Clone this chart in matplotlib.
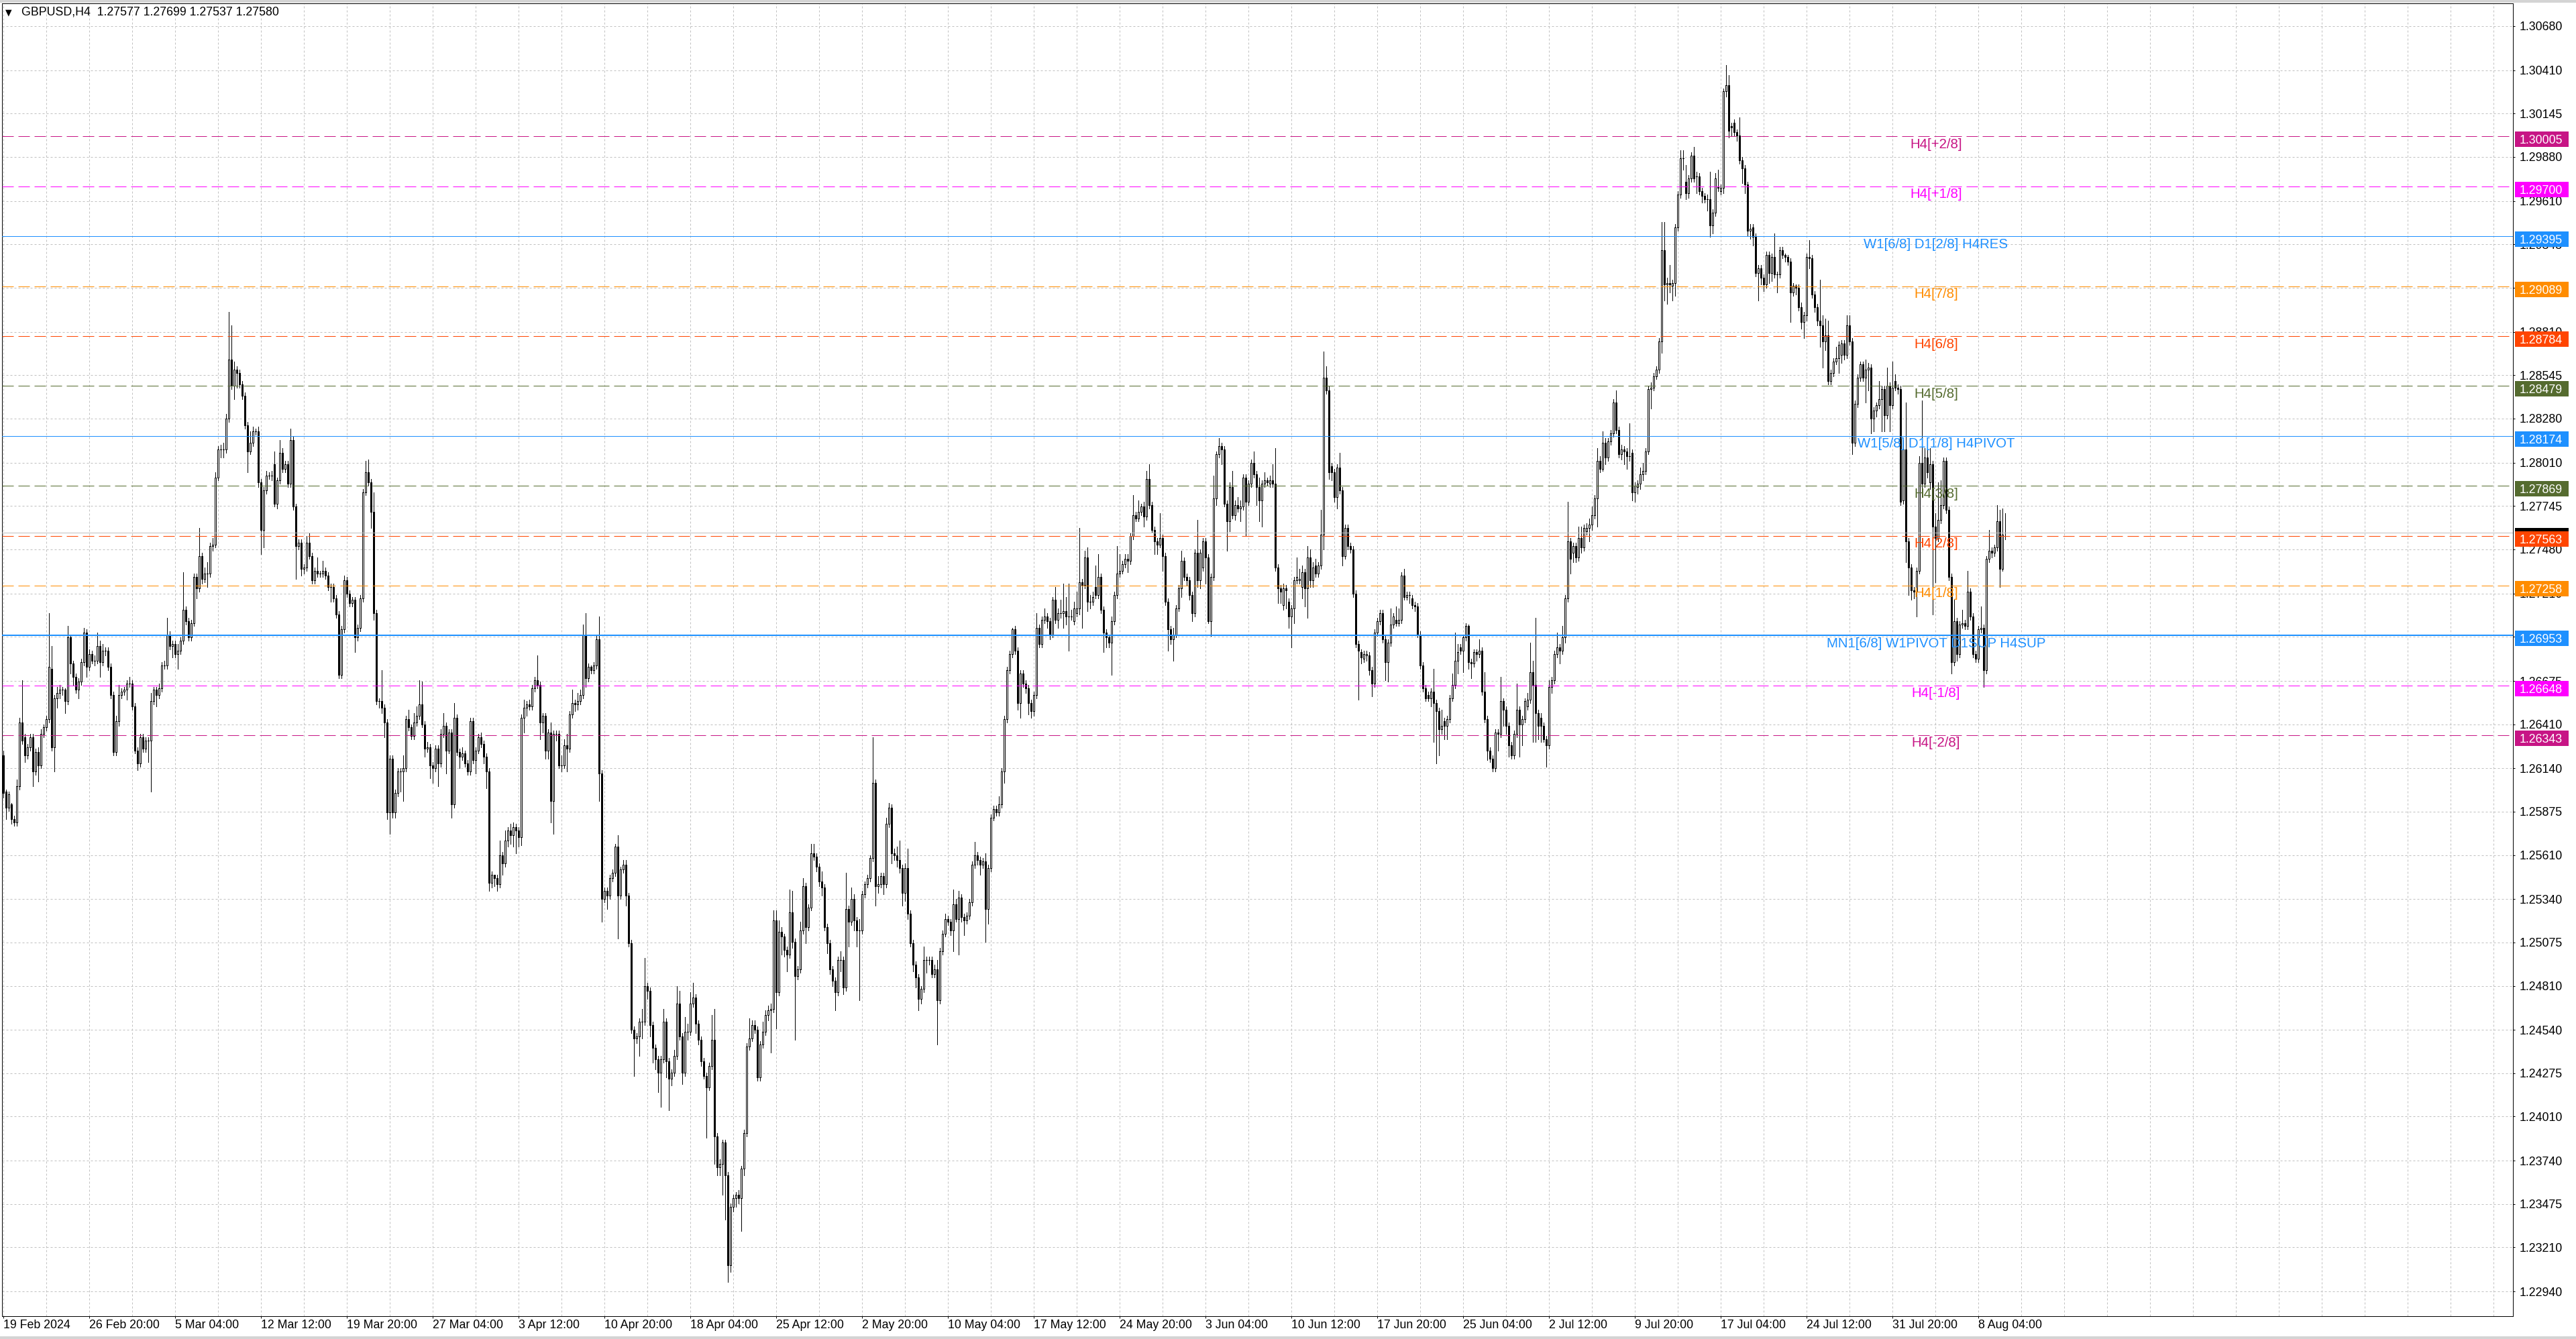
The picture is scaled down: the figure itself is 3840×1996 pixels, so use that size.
import matplotlib
matplotlib.use("Agg")
import matplotlib.pyplot as plt
import numpy as np
from matplotlib.patches import Rectangle
from matplotlib.ticker import FixedLocator

plt.rcParams['font.family'] = ['Liberation Sans', 'DejaVu Sans']

TITLE = "GBPUSD,H4  1.27577 1.27699 1.27537 1.27580"
BID = 1.27580

# H4 candles, prices in units of 0.0001
opens = [
12622,12600,12590,12592,12583,12581,12603,12642,12633,12622,
12627,12633,12612,12624,12616,12635,12639,12644,12675,12627,
12657,12660,12662,12662,12655,12694,12678,12670,12662,12667,
12679,12697,12676,12684,12680,12680,12689,12679,12686,12686,
12676,12659,12624,12643,12659,12661,12662,12666,12666,12652,
12625,12617,12633,12626,12631,12631,12655,12662,12659,12663,
12677,12677,12696,12689,12690,12684,12686,12692,12711,12704,
12694,12703,12731,12724,12744,12730,12733,12733,12750,12751,
12792,12809,12809,12809,12828,12864,12848,12858,12856,12849,
12842,12824,12808,12813,12820,12820,12789,12760,12784,12793,
12793,12800,12776,12790,12807,12797,12800,12788,12815,12774,
12750,12752,12736,12737,12752,12744,12729,12735,12733,12733,
12735,12732,12725,12725,12718,12708,12671,12699,12729,
12721,12715,12717,12694,12700,12718,12783,12795,12789,12771,
12709,12655,12655,12651,12642,12587,12620,12587,12599,12612,
12612,12614,12644,12639,12634,12642,12646,12653,12641,12626,
12627,12616,12614,12626,12617,12635,12640,12625,12636,12592,
12645,12624,12621,12623,12617,12612,12643,12619,12625,12633,
12629,12621,12612,12544,12549,12547,12543,12561,12556,12570,
12576,12573,12578,12576,12572,12645,12651,12653,12652,12663,
12668,12665,12642,12646,12625,12636,12594,12635,12635,12616,
12616,12628,12626,12647,12654,12653,12655,12659,12696,12669,
12676,12674,12677,12693,12611,12534,12539,12536,12547,12550,
12566,12536,12552,12555,12536,12507,12454,12449,12450,12459,
12459,12481,12478,12457,12443,12436,12428,12436,12459,12435,
12424,12428,12438,12470,12450,12428,12453,12453,12470,12474,
12458,12448,12435,12426,12419,12432,12448,12389,12370,12372,
12385,12365,12310,12346,12351,12353,12351,12369,12391,12444,
12449,12457,12454,12425,12445,12453,12463,12466,12467,12521,
12477,12514,12511,12503,12500,12526,12508,12487,12491,12515,
12542,12517,12529,12562,12560,12554,12545,12541,12517,12507,
12491,12484,12477,12497,12497,12480,12528,12520,12534,12521,
12515,12515,12537,12543,12547,12559,12605,12542,12543,12548,
12543,12580,12590,12562,12561,12558,12553,12538,12553,12525,
12507,12494,12486,12473,12479,12497,
12497,
12497,12488,12491,12472,12502,12513,12522,12520,12515,12531,
12522,12535,12523,12521,12524,12532,12555,12561,12558,12555,
12557,12528,12553,12584,12589,12587,12592,12612,12644,12674,
12684,12699,12686,12654,12672,12666,12663,12654,12649,12659,
12700,12690,12705,12707,12704,12696,12717,12705,12709,12709,
12710,12707,12707,12704,12709,12712,12728,12726,12743,12716,
12716,12725,12720,12731,12711,12697,12694,12691,12704,12720,
12733,12735,12739,12742,12741,12756,12769,12767,12771,12774,
12768,12791,12775,12760,12753,12751,12755,12744,12716,12699,
12693,12696,12712,12724,12741,12731,12729,12720,12709,12746,
12729,12737,12753,12743,12704,12731,12779,12806,12811,12809,
12776,12765,12786,12769,12775,12773,12774,12792,12777,12788,
12801,12794,12786,12778,12788,12790,12788,12790,12788,12737,
12724,12714,12724,12716,12707,12712,12729,12729,12725,12734,
12724,12743,12729,12738,12733,12738,12757,12853,12845,12799,
12795,12780,12798,12784,12744,12761,12750,12748,12721,12690,
12685,12681,12683,12683,12674,12666,12697,12704,12709,12693,
12679,12691,12702,12705,12703,12705,12732,12719,12720,12718,
12714,12713,12696,12677,12663,12659,12657,12661,12654,12649,
12638,12643,12640,12644,12657,12665,12680,12688,12686,12694,
12701,12679,12678,12685,12684,12686,12661,12644,12625,12620,
12614,12636,12635,12655,12650,12640,12628,12622,12635,12650,
12641,12644,12652,12656,12673,12665,12648,12645,12640,12632,
12628,12664,12668,12684,12688,12686,12694,12718,12753,12746,
12750,12743,12755,12749,12759,12761,12763,12769,12779,12802,
12797,12813,12804,12814,12819,12838,12821,12806,12809,12808,
12805,12807,12783,12786,12788,12794,12796,12808,12846,12847,
12854,12858,12875,12931,12910,12911,12909,12911,12945,12965,
12987,12973,12966,12975,12989,12976,12976,12967,12964,12962,
12962,12946,12954,12970,
12967,
12969,13028,13032,13007,13009,13003,13001,12986,12981,12971,
12943,12945,12939,12917,12920,12914,12910,12928,12917,12927,
12916,12916,12931,12928,12927,12924,12905,12909,12908,12896,
12887,12891,12927,12926,12904,12896,12888,12885,12875,12879,
12851,12856,12863,12865,12867,12874,12867,12885,12875,12813,
12837,12853,12861,12853,12858,12859,12828,12833,12836,12840,
12846,12830,12848,12836,12851,12847,12846,12778,12809,12753,
12737,12723,12722,12735,12801,12788,12804,12789,12800,12762,
12755,12766,12775,12802,12772,12731,12679,12704,12684,12702,
12703,12701,12722,12707,12684,12681,12699,12700,12674,12742,
12747,12746,12749,12765,12736,12758,
]

highs = [
12625,12601,12600,12593,12585,12607,12645,12668,12635,12629,
12635,12635,12626,12627,12638,12641,12646,12709,12689,12659,
12664,12665,12664,12663,12701,12696,12680,12672,12669,12681,
12700,12699,12687,12686,12683,12697,12692,12690,12688,12688,
12678,12661,12646,12665,12663,12664,12668,12670,12668,12654,
12627,12635,12635,12633,12633,12660,12664,12664,12666,12679,
12680,12706,12698,12692,12692,12690,12694,12734,12713,12706,
12705,12733,12733,12761,12746,12737,12740,12752,12755,12795,
12811,12812,12813,12831,12893,12885,12863,12860,12858,12851,
12844,12826,12820,12823,12822,12823,12791,12786,12796,12795,
12796,12808,12792,12815,12810,12802,12802,12822,12817,12776,
12754,12754,12739,12756,12758,12746,12737,12743,12735,12741,
12737,12734,12727,12727,12720,12710,12701,12732,12731,
12723,12719,12719,12702,12720,12785,12802,12803,12791,12783,
12711,12657,12674,12653,12644,12622,12622,12601,12614,12614,
12622,12646,12650,12641,12648,12652,12668,12667,12643,12630,
12629,12618,12628,12628,12638,12648,12642,12638,12638,12654,
12647,12626,12627,12625,12619,12645,12645,12627,12635,12636,
12631,12623,12614,12551,12549,12549,12570,12563,12576,12578,
12580,12581,12580,12578,12647,12656,12655,12656,12665,12670,
12683,12667,12648,12648,12638,12642,12637,12637,12637,12622,
12632,12635,12649,12662,12656,12660,12662,12702,12709,12678,
12677,12679,12696,12707,12613,12541,12541,12549,12552,12568,
12573,12554,12558,12558,12538,12509,12456,12452,12461,12467,
12498,12483,12480,12459,12445,12438,12438,12467,12461,12437,
12430,12442,12481,12478,12452,12462,12458,12477,12483,12476,
12460,12450,12437,12428,12434,12463,12467,12391,12375,12387,
12387,12367,12348,12353,12355,12356,12371,12393,12446,12461,
12460,12460,12456,12447,12459,12466,12469,12470,12527,12527,
12521,12517,12513,12505,12540,12539,12510,12493,12520,12547,
12544,12531,12568,12568,12562,12556,12551,12543,12519,12509,
12493,12486,12499,12502,12499,12550,12530,12541,12537,12523,
12522,12539,12545,12549,12561,12633,12607,12548,12550,12550,
12584,12593,12592,12565,12566,12570,12555,12556,12565,12527,
12509,12496,12488,12481,12505,12499,
12499,
12499,12494,12497,12504,12515,12525,12524,12522,12540,12534,
12539,12537,12525,12526,12534,12557,12569,12563,12560,12559,
12562,12555,12586,12591,12591,12597,12614,12646,12676,12686,
12700,12701,12688,12674,12674,12668,12665,12656,12661,12709,
12702,12707,12712,12709,12706,12719,12725,12712,12717,12727,
12719,12727,12711,12716,12722,12761,12730,12747,12749,12720,
12722,12738,12745,12733,12713,12699,12696,12707,12722,12750,
12745,12741,12745,12745,12758,12781,12771,12778,12776,12777,
12796,12800,12777,12762,12755,12770,12757,12746,12718,12701,
12700,12714,12726,12747,12743,12733,12731,12722,12748,12766,
12748,12755,12755,12745,12733,12793,12808,12816,12813,12811,
12778,12789,12796,12778,12780,12778,12794,12794,12790,12803,
12808,12796,12792,12790,12795,12792,12793,12800,12810,12739,
12726,12727,12726,12718,12714,12731,12743,12736,12738,12736,
12750,12748,12740,12742,12740,12772,12869,12860,12848,12801,
12797,12800,12807,12786,12763,12763,12752,12750,12723,12692,
12687,12686,12686,12685,12676,12699,12706,12711,12711,12695,
12693,12712,12709,12713,12712,12734,12736,12722,12722,12720,
12716,12715,12698,12679,12665,12661,12663,12675,12656,12651,
12650,12645,12646,12659,12672,12697,12690,12690,12696,12703,
12702,12681,12687,12687,12693,12688,12673,12646,12627,12622,
12638,12638,12670,12657,12652,12642,12630,12637,12666,12652,
12646,12657,12660,12691,12680,12706,12650,12648,12642,12634,
12668,12670,12686,12697,12690,12701,12720,12777,12755,12752,
12752,12762,12762,12763,12764,12767,12774,12781,12810,12805,
12820,12816,12816,12821,12840,12845,12823,12812,12811,12810,
12825,12809,12789,12790,12798,12801,12810,12848,12850,12856,
12860,12877,12948,12948,12914,12922,12913,12947,12967,12992,
12992,12983,12977,12991,12994,12979,12978,12969,12966,12965,
12979,12956,12978,12980,
12971,
13030,13044,13038,13009,13011,13005,13012,12988,12983,12973,
12947,12947,12941,12922,12922,12916,12930,12930,12929,12941,
12918,12933,12933,12929,12928,12926,12911,12910,12910,12899,
12893,12929,12937,12928,12906,12898,12913,12891,12889,12888,
12858,12865,12872,12875,12876,12876,12891,12891,12877,12839,
12855,12863,12863,12864,12862,12861,12835,12838,12851,12848,
12848,12859,12850,12863,12855,12849,12848,12815,12838,12755,
12739,12725,12737,12805,12839,12810,12813,12810,12802,12770,
12789,12790,12804,12804,12774,12733,12717,12706,12704,12711,
12705,12735,12724,12709,12686,12701,12713,12702,12744,12760,
12749,12751,12775,12772,12773,12770,
]

lows = [
12596,12583,12588,12580,12579,12579,12601,12629,12618,12620,
12625,12603,12610,12606,12614,12633,12637,12642,12625,12612,
12651,12657,12659,12648,12653,12672,12665,12660,12657,12665,
12677,12670,12674,12678,12677,12678,12670,12677,12683,12674,
12657,12622,12622,12640,12657,12659,12656,12664,12650,12623,
12613,12615,12624,12624,12618,12600,12653,12652,12657,12661,
12675,12675,12687,12682,12682,12675,12684,12690,12702,12692,
12692,12701,12718,12722,12727,12728,12725,12731,12747,12749,
12790,12804,12804,12807,12826,12846,12840,12847,12847,12840,
12822,12795,12806,12811,12818,12786,12745,12749,12782,12791,
12790,12774,12773,12788,12795,12795,12786,12786,12772,12730,
12748,12732,12733,12735,12742,12727,12727,12731,12731,12731,
12730,12723,12716,12716,12706,12669,12669,12697,12719,
12713,12713,12685,12692,12698,12716,12781,12787,12761,12705,
12653,12651,12648,12633,12583,12574,12584,12584,12597,12600,
12594,12612,12637,12632,12632,12640,12644,12639,12621,12624,
12608,12605,12612,12603,12615,12633,12611,12623,12584,12590,
12622,12614,12619,12615,12610,12610,12617,12611,12623,12627,
12617,12602,12539,12541,12542,12539,12541,12549,12554,12566,
12568,12566,12562,12566,12567,12636,12646,12650,12650,12661,
12663,12632,12636,12620,12620,12581,12574,12631,12614,12612,
12614,12612,12624,12645,12649,12650,12653,12657,12664,12667,
12672,12672,12675,12594,12520,12532,12528,12534,12545,12548,
12510,12534,12550,12530,12505,12452,12426,12446,12438,12449,
12457,12473,12450,12434,12430,12416,12407,12434,12425,12405,
12420,12426,12436,12448,12421,12426,12448,12451,12468,12452,
12445,12432,12424,12388,12417,12430,12372,12365,12365,12353,
12338,12300,12306,12343,12346,12348,12331,12365,12389,12442,
12447,12452,12423,12423,12443,12451,12460,12440,12465,12455,
12475,12500,12499,12490,12498,12504,12448,12485,12489,12513,
12507,12515,12527,12558,12551,12542,12536,12515,12501,12488,
12481,12466,12475,12490,12476,12478,12505,12518,12515,12505,
12472,12513,12535,12541,12545,12557,12530,12538,12541,12537,
12541,12578,12556,12558,12554,12550,12530,12533,12522,12505,
12490,12480,12466,12470,12477,12489,
12494,
12486,12486,12445,12470,12500,12511,12518,12512,12502,12520,
12500,12520,12512,12519,12522,12530,12553,12555,12549,12553,
12508,12519,12551,12582,12585,12585,12590,12605,12642,12672,
12682,12684,12650,12645,12664,12660,12647,12645,12646,12657,
12688,12688,12703,12700,12693,12694,12703,12700,12706,12700,
12702,12686,12705,12702,12707,12708,12700,12724,12710,12712,
12714,12718,12718,12709,12685,12688,12688,12671,12702,12718,
12731,12733,12737,12734,12739,12754,12765,12765,12769,12762,
12766,12773,12758,12745,12745,12749,12735,12714,12686,12690,
12680,12694,12710,12719,12729,12726,12717,12704,12707,12725,
12724,12735,12727,12703,12695,12729,12775,12804,12800,12774,
12747,12759,12767,12766,12771,12765,12772,12756,12775,12786,
12792,12775,12765,12762,12786,12787,12786,12786,12735,12715,
12715,12711,12712,12700,12688,12703,12727,12727,12718,12713,
12706,12725,12725,12731,12731,12736,12748,12843,12791,12790,
12777,12773,12782,12738,12742,12748,12746,12719,12688,12656,
12678,12679,12680,12671,12658,12664,12695,12702,12691,12668,
12667,12689,12700,12701,12701,12703,12717,12717,12715,12712,
12710,12694,12675,12661,12655,12655,12652,12630,12617,12622,
12635,12632,12632,12642,12655,12663,12672,12684,12673,12692,
12675,12669,12676,12680,12682,12659,12642,12619,12618,12612,
12612,12625,12633,12640,12635,12621,12620,12620,12633,12621,
12628,12642,12650,12654,12630,12630,12632,12630,12630,12615,
12626,12660,12666,12682,12678,12684,12691,12716,12733,12740,
12740,12741,12746,12747,12757,12753,12760,12767,12762,12795,
12796,12800,12802,12812,12817,12819,12804,12803,12800,12797,
12802,12778,12777,12782,12785,12790,12794,12806,12834,12845,
12852,12856,12868,12900,12898,12905,12900,12903,12943,12963,
12980,12962,12963,12973,12973,12966,12965,12960,12960,12955,
12939,12941,12952,12967,
12965,
12966,13025,13000,13001,13001,12998,12984,12972,12966,12940,
12938,12934,12915,12900,12910,12906,12908,12911,12912,12914,
12905,12914,12926,12924,12922,12887,12903,12904,12894,12883,
12877,12888,12920,12902,12893,12885,12872,12859,12870,12849,
12849,12854,12861,12856,12862,12864,12865,12873,12806,12811,
12835,12851,12851,12838,12845,12819,12820,12829,12834,12820,
12820,12828,12820,12834,12845,12843,12775,12776,12740,12720,
12717,12718,12707,12733,12780,12786,12792,12785,12708,12728,
12753,12764,12773,12770,12729,12672,12677,12680,12682,12700,
12699,12699,12705,12682,12679,12679,12697,12664,12672,12740,
12743,12744,12747,12725,12735,12754,
]

closes = [
12599,12590,12598,12583,12581,12603,12642,12631,12622,12627,
12633,12612,12624,12616,12635,12639,12644,12676,12627,12657,
12660,12662,12662,12655,12694,12678,12670,12662,12667,12679,
12697,12676,12684,12680,12680,12689,12679,12686,12686,12676,
12659,12624,12643,12659,12661,12662,12666,12666,12652,12625,
12617,12633,12626,12631,12631,12655,12662,12659,12663,12677,
12677,12696,12689,12690,12684,12686,12692,12711,12704,12694,
12703,12731,12724,12744,12730,12733,12733,12750,12751,12792,
12809,12809,12809,12828,12864,12848,12858,12856,12849,12842,
12824,12808,12813,12820,12820,12789,12760,12784,12793,12793,
12793,12776,12790,12807,12797,12800,12788,12815,12774,12750,
12752,12736,12737,12752,12744,12729,12735,12733,12733,12735,
12732,12725,12725,12718,12708,12671,12699,12729,12721,
12715,12717,12694,12700,12718,12783,12795,12789,12771,12709,
12655,12655,12651,12642,12587,12620,12587,12599,12612,12612,
12614,12644,12639,12634,12642,12646,12653,12641,12626,12627,
12616,12614,12626,12617,12635,12640,12625,12636,12592,12645,
12624,12621,12623,12617,12612,12643,12619,12625,12633,12629,
12621,12612,12544,12549,12547,12543,12561,12556,12570,12576,
12573,12578,12576,12572,12645,12651,12653,12652,12663,12668,
12665,12642,12646,12625,12636,12594,12635,12635,12616,12616,
12628,12626,12647,12654,12653,12655,12659,12696,12669,12676,
12674,12677,12693,12611,12534,12539,12536,12547,12550,12566,
12536,12552,12555,12536,12507,12454,12449,12450,12459,12459,
12481,12478,12457,12443,12436,12428,12436,12459,12435,12424,
12428,12438,12470,12450,12428,12453,12453,12470,12474,12458,
12448,12435,12426,12419,12432,12448,12389,12370,12372,12385,
12365,12310,12346,12351,12353,12351,12369,12391,12444,12449,
12457,12454,12425,12445,12453,12463,12466,12467,12521,12477,
12514,12511,12503,12500,12526,12508,12487,12491,12515,12542,
12517,12529,12562,12560,12554,12545,12541,12517,12507,12491,
12484,12477,12497,12497,12480,12528,12520,12534,12521,12515,
12515,12537,12543,12547,12559,12605,12542,12543,12548,12543,
12580,12590,12562,12561,12558,12553,12538,12553,12525,12507,
12494,12486,12473,12479,12497,12497,
12497,
12488,12491,12472,12502,12513,12522,12520,12515,12531,12522,
12535,12523,12521,12524,12532,12555,12561,12558,12555,12557,
12528,12553,12584,12589,12587,12592,12612,12644,12674,12684,
12699,12686,12654,12672,12666,12663,12654,12649,12659,12700,
12690,12705,12707,12704,12696,12717,12705,12709,12709,12710,
12707,12707,12707,12712,12712,12728,12726,12743,12716,12716,
12719,12720,12731,12711,12697,12694,12691,12704,12720,12733,
12735,12739,12742,12741,12756,12769,12767,12771,12774,12768,
12791,12775,12760,12753,12751,12755,12744,12716,12699,12693,
12696,12712,12724,12741,12731,12729,12720,12709,12746,12729,
12746,12753,12743,12704,12731,12779,12806,12811,12809,12776,
12765,12786,12769,12775,12773,12774,12792,12777,12788,12801,
12794,12786,12778,12788,12790,12789,12790,12788,12737,12724,
12722,12724,12723,12707,12712,12729,12731,12730,12734,12724,
12743,12729,12737,12733,12738,12757,12853,12845,12795,12795,
12780,12798,12784,12744,12761,12750,12748,12721,12690,12686,
12682,12684,12684,12674,12666,12697,12704,12709,12693,12679,
12691,12702,12707,12703,12705,12732,12719,12720,12720,12714,
12713,12696,12677,12663,12657,12657,12661,12654,12649,12638,
12640,12640,12644,12657,12665,12680,12685,12686,12694,12701,
12679,12678,12685,12684,12686,12661,12644,12625,12620,12614,
12636,12635,12655,12650,12640,12628,12622,12635,12650,12641,
12644,12655,12656,12673,12665,12648,12640,12640,12632,12628,
12664,12668,12684,12688,12686,12694,12718,12753,12742,12750,
12743,12755,12749,12761,12761,12763,12769,12779,12802,12797,
12813,12804,12814,12819,12838,12821,12806,12809,12808,12805,
12805,12783,12787,12788,12794,12796,12808,12846,12847,12854,
12858,12875,12931,12910,12911,12910,12911,12945,12965,12987,
12987,12966,12975,12989,12975,12976,12967,12964,12962,12962,
12946,12954,12975,12969,
12969,
13028,13032,13004,13006,13003,13001,12986,12981,12971,12943,
12944,12939,12917,12920,12914,12910,12928,12917,12927,12916,
12916,12931,12928,12927,12924,12905,12909,12908,12896,12887,
12891,12927,12926,12904,12896,12888,12885,12875,12879,12851,
12856,12863,12865,12873,12874,12867,12885,12875,12813,12837,
12853,12861,12853,12858,12859,12828,12833,12836,12840,12846,
12830,12848,12836,12847,12847,12846,12777,12809,12753,12737,
12723,12722,12735,12801,12788,12804,12795,12800,12762,12755,
12766,12775,12802,12772,12731,12679,12704,12684,12702,12703,
12701,12722,12707,12684,12681,12699,12700,12674,12742,12747,
12746,12749,12765,12736,12757,12758,
]

time_labels = ["19 Feb 2024", "26 Feb 20:00", "5 Mar 04:00", "12 Mar 12:00",
               "19 Mar 20:00", "27 Mar 04:00", "3 Apr 12:00", "10 Apr 20:00",
               "18 Apr 04:00", "25 Apr 12:00", "2 May 20:00", "10 May 04:00",
               "17 May 12:00", "24 May 20:00", "3 Jun 04:00", "10 Jun 12:00",
               "17 Jun 20:00", "25 Jun 04:00", "2 Jul 12:00", "9 Jul 20:00",
               "17 Jul 04:00", "24 Jul 12:00", "31 Jul 20:00", "8 Aug 04:00"]

price_labels = ["1.30680", "1.30410", "1.30145", "1.29880", "1.29610", "1.29345",
                "1.29080", "1.28810", "1.28545", "1.28280", "1.28010", "1.27745",
                "1.27480", "1.27210", "1.26945", "1.26675", "1.26410", "1.26140",
                "1.25875", "1.25610", "1.25340", "1.25075", "1.24810", "1.24540",
                "1.24275", "1.24010", "1.23740", "1.23475", "1.23210", "1.22940"]

level_prices = [1.30005, 1.29700, 1.29395, 1.29089, 1.28784, 1.28479, 1.28174,
                1.27869, 1.27563, 1.27258, 1.26953, 1.26648, 1.26343]
level_names = ["H4[+2/8]", "H4[+1/8]", "W1[6/8] D1[2/8] H4RES", "H4[7/8]", "H4[6/8]",
               "H4[5/8]", "W1[5/8] D1[1/8] H4PIVOT", "H4[3/8]", "H4[2/8]", "H4[1/8]",
               "MN1[6/8] W1PIVOT D1SUP H4SUP", "H4[-1/8]", "H4[-2/8]"]
level_colors = ["#C71585", "#FF00FF", "#1E90FF", "#FF8C00", "#FF4500", "#556B2F",
                "#1E90FF", "#556B2F", "#FF4500", "#FF8C00", "#1E90FF", "#FF00FF",
                "#C71585"]
level_styles = ["dash", "dash", "solid", "dash", "dash", "dash", "solid",
                "dash", "dash", "dash", "thick", "dash", "dash"]

# ---------------------------------------------------------------- layout
W, H, DPI = 3840, 1996, 100
PX = 72.0 / DPI                      # one pixel in points
AX_L, AX_R, AX_T, AX_B = 3, 3746, 5, 1962
YLIM = (1.227892, 1.308195)
XLIM = (-0.5, 935.25)
GRID_C = "#c0c0c0"
FS = 12.8

fig = plt.figure(figsize=(W / DPI, H / DPI), dpi=DPI, facecolor="white")
fig.patches.append(Rectangle((0, 1 - 4 / H), 1, 4 / H, transform=fig.transFigure,
                             fc="#d4d4d4", ec="none", zorder=0))
fig.patches.append(Rectangle((0, 0), 1, 4 / H, transform=fig.transFigure,
                             fc="#d4d4d4", ec="none", zorder=0))

ax = fig.add_axes([AX_L / W, 1 - AX_B / H, (AX_R - AX_L) / W, (AX_B - AX_T) / H])
ax.set_facecolor("white")
ax.set_xlim(*XLIM)
ax.set_ylim(*YLIM)
for s in ax.spines.values():
    s.set_color("black")
    s.set_linewidth(PX)

n = min(len(opens), len(highs), len(lows), len(closes))
o = np.array(opens[:n]) / 1e4
h = np.array(highs[:n]) / 1e4
l = np.array(lows[:n]) / 1e4
c = np.array(closes[:n]) / 1e4
x = np.arange(n)

top = np.maximum(o, c)
bot = np.minimum(o, c)
ax.vlines(x, np.minimum(l, bot), np.maximum(h, top), color="black", lw=PX,
          zorder=2, antialiased=False)
bull = c >= o
ax.bar(x, top - bot, width=0.5, bottom=bot,
       color=np.where(bull, "white", "black"), edgecolor="black",
       linewidth=PX, zorder=2.1, antialiased=False)

# bid line
ax.axhline(BID, color="#c0c0c0", lw=PX, zorder=2.9)

# level lines + labels
LABEL_X = 720.25
for p, name, col, st in zip(level_prices, level_names, level_colors, level_styles):
    if st == "dash":
        ax.axhline(p, color=col, lw=PX, ls=(0, (17, 7)), zorder=3)
    elif st == "solid":
        ax.axhline(p, color=col, lw=PX, zorder=3)
    else:
        ax.axhline(p, color=col, lw=2 * PX, zorder=3)
    ax.annotate(name, (LABEL_X, p), xytext=(0, -12 * PX), textcoords="offset points",
                ha="center", va="center", color=col, fontsize=14.7, zorder=5)

# x axis: labels every 32 bars, grid every 16 bars
major = list(range(0, 32 * len(time_labels), 32))
ax.set_xticks(major)
ax.set_xticklabels(time_labels)
for t in ax.get_xticklabels():
    t.set_ha("left")
minor = [v for v in range(16, int(XLIM[1]) + 1, 16) if v % 32 != 0 or v > major[-1]]
ax.xaxis.set_minor_locator(FixedLocator(minor))
ax.tick_params(axis="x", which="major", length=2.5, width=PX, pad=1.0,
               labelsize=FS, direction="out", colors="black")
ax.tick_params(axis="x", which="minor", length=0)

# y axis on the right
pvals = [float(s) for s in price_labels]
ax.yaxis.tick_right()
ax.set_yticks(pvals)
ax.set_yticklabels(price_labels)
ax.tick_params(axis="y", which="major", length=3 * PX, width=PX, pad=5.0,
               labelsize=FS, direction="out", colors="black")

ax.set_axisbelow(True)
ax.grid(True, axis="x", which="both", color=GRID_C, lw=PX, ls=(0, (3, 3)))
ax.grid(True, axis="y", which="major", color=GRID_C, lw=PX, ls=(0, (3, 3)))

# title
fig.text(12.5 / W, 1 - 19 / H, "\u25BC", fontsize=9, family="DejaVu Sans",
         ha="center", va="center", color="black")
fig.text(32 / W, 1 - 18 / H, TITLE, fontsize=FS, ha="left", va="center", color="black")

# price boxes on the right scale
ax2 = fig.add_axes([AX_R / W, 1 - AX_B / H, (W - AX_R) / W, (AX_B - AX_T) / H])
ax2.set_xlim(0, W - AX_R)
ax2.set_ylim(*YLIM)
ax2.axis("off")
ppu = (AX_B - AX_T) / (YLIM[1] - YLIM[0])
boxes = [(BID, "black")] + list(zip(level_prices, level_colors))
for i, (p, col) in enumerate(boxes):
    ax2.add_patch(Rectangle((3, p - 16 / ppu), 80, 23 / ppu, fc=col, ec="none",
                            zorder=10 + 2 * i))
    ax2.text(10, p - 4.5 / ppu, f"{p:.5f}", color="white", fontsize=FS,
             ha="left", va="center_baseline", zorder=11 + 2 * i)

fig.savefig("out.png", dpi=DPI, facecolor="white")
